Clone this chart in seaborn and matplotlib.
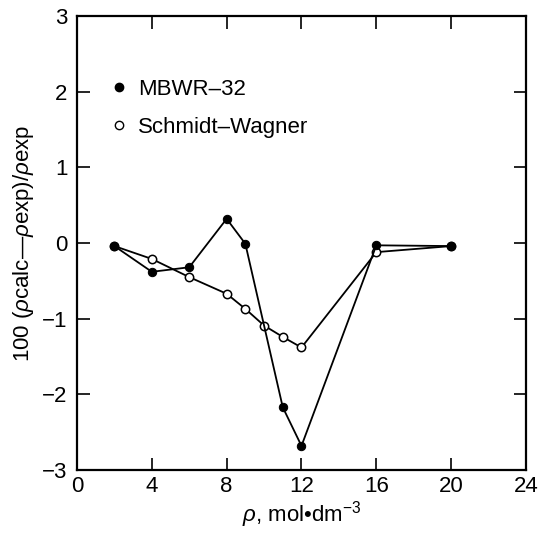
import matplotlib
matplotlib.use("Agg")
import matplotlib.pyplot as plt
from matplotlib.lines import Line2D
import seaborn as sns
import pandas as pd

# density (mol/dm3) and deviation 100*(rho_calc - rho_exp)/rho_exp
rho_mbwr = [2, 4, 6, 8, 9, 11, 12, 16, 20]
dev_mbwr = [-0.04, -0.38, -0.32, 0.32, -0.01, -2.17, -2.68, -0.03, -0.04]

rho_sw = [2, 4, 6, 8, 9, 10, 11, 12, 16, 20]
dev_sw = [-0.04, -0.21, -0.45, -0.67, -0.87, -1.09, -1.24, -1.38, -0.12, -0.04]

labels = ["MBWR\u201332", "Schmidt\u2013Wagner"]

sns.set_style("ticks")
plt.rcParams['font.family'] = ['Liberation Sans', 'DejaVu Sans']
plt.rcParams['text.color'] = 'black'
plt.rcParams['axes.labelcolor'] = 'black'
plt.rcParams['mathtext.fontset'] = 'custom'
plt.rcParams['mathtext.rm'] = 'Liberation Sans'
plt.rcParams['mathtext.it'] = 'Liberation Sans:italic'

df_m = pd.DataFrame({'rho': rho_mbwr, 'dev': dev_mbwr})
df_s = pd.DataFrame({'rho': rho_sw, 'dev': dev_sw})

fig = plt.figure(figsize=(5.4, 5.33), dpi=100)
ax = fig.add_axes([0.1426, 0.118, 0.8314, 0.852])

sns.lineplot(data=df_s, x='rho', y='dev', ax=ax, color='black', lw=1.3,
             marker='o', markersize=6, markerfacecolor='white',
             markeredgecolor='black', markeredgewidth=1.1)
sns.lineplot(data=df_m, x='rho', y='dev', ax=ax, color='black', lw=1.3,
             marker='o', markersize=6, markerfacecolor='black',
             markeredgecolor='black')

ax.set_xlim(0, 24)
ax.set_ylim(-3, 3)
ax.set_xticks([0, 4, 8, 12, 16, 20, 24])
ax.set_yticks([-3, -2, -1, 0, 1, 2, 3])
ax.set_yticklabels(['\u22123', '\u22122', '\u22121', '0', '1', '2', '3'])
ax.tick_params(direction='in', length=9, width=1.2, top=True, right=True,
               labelsize=16, colors='black')
ax.tick_params(axis='y', pad=7)
ax.tick_params(axis='x', pad=4)
for s in ax.spines.values():
    s.set_linewidth(1.6)
    s.set_color('black')

ax.set_xlabel("$\\rho$, mol\u2022dm$^{-3}$", fontsize=16, labelpad=2)
ax.set_ylabel("100 ($\\rho$calc\u2014$\\rho$exp)/$\\rho$exp", fontsize=16, labelpad=4)

handles = [
    Line2D([], [], ls='none', marker='o', markersize=6, color='black'),
    Line2D([], [], ls='none', marker='o', markersize=6, markerfacecolor='white',
           markeredgecolor='black'),
]
ax.legend(handles, labels, loc='upper left', frameon=False, fontsize=16,
          handlelength=0.8, handletextpad=0.45, labelspacing=0.75,
          bbox_to_anchor=(0.03, 0.905))

fig.savefig("out.png", dpi=100)
